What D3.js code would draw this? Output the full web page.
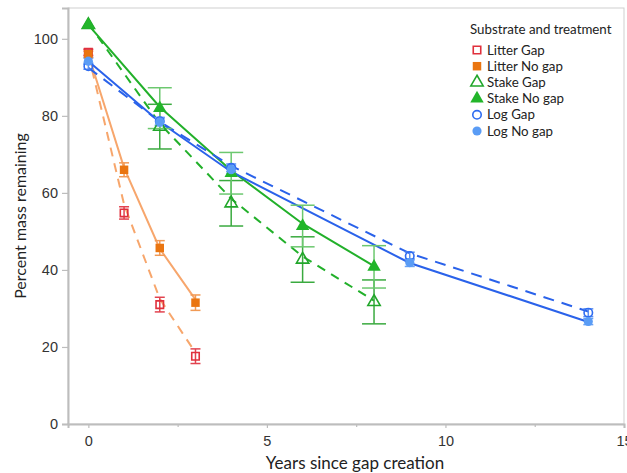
<!DOCTYPE html>
<html>
<head>
<meta charset="utf-8">
<script src="https://cdn.jsdelivr.net/npm/d3@7"></script>
<style>
  body { margin: 0; background: #fff; }
  svg { font-family: Lato, "Open Sans", sans-serif; }
</style>
</head>
<body>
<svg width="627" height="473"></svg>
<script>
//  data
var seriesNames = ["Litter Gap", "Litter No gap", "Stake Gap", "Stake No gap", "Log Gap", "Log No gap"];

var litterYears = [0, 1, 2, 3];
var litterGapMean = [96.5, 54.8, 31, 17.6];
var litterGapErr = [0.8, 1.6, 1.9, 1.9];
var litterGapFit = [96, 57, 32.5, 18.5];
var litterNoGapMean = [96, 66, 45.7, 31.5];
var litterNoGapErr = [0.8, 1.8, 1.9, 2];
var litterNoGapFit = [96, 66.5, 45.5, 32.3];

var stakeYears = [0, 2, 4, 6, 8];
var stakeGapMean = [103.6, 77.2, 57.3, 42.7, 31.7];
var stakeGapErr = [0, 5.8, 5.9, 5.9, 5.7];
var stakeGapFit = [104, 78, 58.5, 43.5, 32];
var stakeNoGapMean = [103.6, 82, 65.1, 51.4, 40.8];
var stakeNoGapErr = [0, 5.3, 5.4, 5.4, 5.5];
var stakeNoGapFit = [103.6, 82.3, 65.8, 52, 41];

var logYears = [0, 2, 4, 9, 14];
var logGapMean = [92.9, 78.6, 66.5, 43.6, 28.9];
var logGapErr = [0.8, 1, 1, 1, 1];
var logGapFit = [92.5, 78.5, 67, 44.3, 29.2];
var logNoGapMean = [94.2, 78.4, 66, 41.9, 26.6];
var logNoGapErr = [0.8, 1, 1, 1, 0.8];
var logNoGapFit = [94.2, 78.4, 65.5, 41.8, 26.5];

var xTicks = [0, 5, 10, 15];
var xMinorTicks = [2.5, 7.5, 12.5];
var yTicks = [0, 20, 40, 60, 80, 100];

//  svg selection and sizing
var svg = d3.select("svg");
var width = +svg.attr("width");
var height = +svg.attr("height");
var margin = {top: 8, right: 3, bottom: 49, left: 68};
var plotW = width - margin.left - margin.right;
var plotH = height - margin.top - margin.bottom;

var x = d3.scaleLinear().domain([-0.57, 15]).range([0, plotW]);
var y = d3.scaleLinear().domain([0, 108]).range([plotH, 0]);

var g = svg.append("g").attr("transform", "translate(" + margin.left + "," + margin.top + ")");

//  frame
g.append("rect")
  .attr("x", 0).attr("y", 0)
  .attr("width", plotW).attr("height", plotH)
  .attr("fill", "none")
  .attr("stroke", "#cfcfcf")
  .attr("stroke-width", 1);

//  axes
var yAxis = g.append("g")
  .call(d3.axisLeft(y).tickValues(yTicks).tickSize(6).tickPadding(4));
var xAxis = g.append("g")
  .attr("transform", "translate(0," + plotH + ")")
  .call(d3.axisBottom(x).tickValues(xTicks).tickSize(4).tickPadding(8));
g.append("g")
  .attr("transform", "translate(0," + plotH + ")")
  .call(d3.axisBottom(x).tickValues(xMinorTicks).tickSize(3).tickFormat(""))
  .select(".domain").remove();

[yAxis, xAxis].forEach(function(a) {
  a.select(".domain").attr("stroke", "#bdbdbd").attr("stroke-width", 2);
  a.selectAll(".tick text").attr("fill", "#333").style("font-size", "14.5px");
});
g.selectAll(".tick line").attr("stroke", "#bdbdbd").attr("stroke-width", 1.2);

//  axis titles
svg.append("text")
  .attr("x", 355).attr("y", 469)
  .attr("text-anchor", "middle")
  .attr("fill", "#222")
  .style("font-size", "17px")
  .text("Years since gap creation");
svg.append("text")
  .attr("transform", "translate(26," + (margin.top + plotH / 2) + ") rotate(-90)")
  .attr("text-anchor", "middle")
  .attr("fill", "#222")
  .style("font-size", "16px")
  .text("Percent mass remaining");

//  series definitions built from the arrays
var series = [
  {name: seriesNames[0], xs: litterYears, mean: litterGapMean, err: litterGapErr, fit: litterGapFit,
   line: "#f7a66c", dash: "9,7", bar: "#e2434f", shape: "square", fill: "none", stroke: "#e0303c"},
  {name: seriesNames[1], xs: litterYears, mean: litterNoGapMean, err: litterNoGapErr, fit: litterNoGapFit,
   line: "#f7a66c", dash: null, bar: "#f19a55", shape: "square", fill: "#ea7510", stroke: "#ea7510"},
  {name: seriesNames[2], xs: stakeYears, mean: stakeGapMean, err: stakeGapErr, fit: stakeGapFit,
   line: "#22b02a", dash: "9,7", bar: "#3aaa3f", shape: "triangle", fill: "none", stroke: "#21a62a"},
  {name: seriesNames[3], xs: stakeYears, mean: stakeNoGapMean, err: stakeNoGapErr, fit: stakeNoGapFit,
   line: "#22b02a", dash: null, bar: "#6cc86f", shape: "triangle", fill: "#22b52a", stroke: "#22b52a"},
  {name: seriesNames[4], xs: logYears, mean: logGapMean, err: logGapErr, fit: logGapFit,
   line: "#2a62ea", dash: "11,8", bar: "#5b8ff2", shape: "circle", fill: "none", stroke: "#2f6cf0"},
  {name: seriesNames[5], xs: logYears, mean: logNoGapMean, err: logNoGapErr, fit: logNoGapFit,
   line: "#2a62ea", dash: null, bar: "#6aa2f5", shape: "circle", fill: "#5a9cf5", stroke: "#5a9cf5"}
];

function symbolFor(shape, filled) {
  if (shape == "square") return d3.symbol().type(d3.symbolSquare).size(filled ? 72 : 56);
  if (shape == "triangle") return d3.symbol().type(d3.symbolTriangle).size(filled ? 78 : 66);
  return d3.symbol().type(d3.symbolCircle).size(filled ? 66 : 56);
}

var lineGen = d3.line()
  .x(function(d) { return x(d[0]); })
  .y(function(d) { return y(d[1]); });

//  fitted lines
series.forEach(function(s) {
  var pts = s.xs.map(function(v, i) { return [v, s.fit[i]]; });
  g.append("path")
    .attr("d", lineGen(pts))
    .attr("fill", "none")
    .attr("stroke", s.line)
    .attr("stroke-width", 2)
    .attr("stroke-dasharray", s.dash);
});

//  error bars
series.forEach(function(s) {
  var eb = g.append("g").attr("stroke", s.bar).attr("stroke-width", 1.5);
  var capW = s.shape == "triangle" ? 12 : 5;
  s.xs.forEach(function(v, i) {
    if (!s.err[i]) return;
    var cx = x(v), top = y(s.mean[i] + s.err[i]), bot = y(s.mean[i] - s.err[i]);
    eb.append("line").attr("x1", cx).attr("x2", cx).attr("y1", top).attr("y2", bot);
    eb.append("line").attr("x1", cx - capW).attr("x2", cx + capW).attr("y1", top).attr("y2", top);
    eb.append("line").attr("x1", cx - capW).attr("x2", cx + capW).attr("y1", bot).attr("y2", bot);
  });
});

//  markers
series.forEach(function(s) {
  var filled = s.fill != "none";
  g.append("g").selectAll("path")
    .data(s.xs.map(function(v, i) { return [v, s.mean[i]]; }))
    .enter().append("path")
    .attr("transform", function(d) { return "translate(" + x(d[0]) + "," + y(d[1]) + ")"; })
    .attr("d", symbolFor(s.shape, filled))
    .attr("fill", filled ? s.fill : "none")
    .attr("stroke", s.stroke)
    .attr("stroke-width", filled ? 0 : 1.6);
});

//  legend
var legend = svg.append("g").attr("transform", "translate(470,29)");
legend.append("text")
  .attr("x", 0).attr("y", 0)
  .attr("dy", "0.35em")
  .attr("fill", "#222")
  .style("font-size", "13.3px")
  .text("Substrate and treatment");

var item = legend.selectAll(".item").data(series)
  .enter().append("g")
  .attr("class", "item")
  .attr("transform", function(d, i) { return "translate(0," + (21 + i * 16.2) + ")"; });
item.append("path")
  .attr("transform", "translate(7,0)")
  .attr("d", function(d) { return symbolFor(d.shape, d.fill != "none")(); })
  .attr("fill", function(d) { return d.fill; })
  .attr("stroke", function(d) { return d.stroke; })
  .attr("stroke-width", function(d) { return d.fill == "none" ? 1.6 : 0; });
item.append("text")
  .attr("x", 17).attr("dy", "0.35em")
  .attr("fill", "#222")
  .style("font-size", "13.3px")
  .text(function(d) { return d.name; });
</script>
</body>
</html>
